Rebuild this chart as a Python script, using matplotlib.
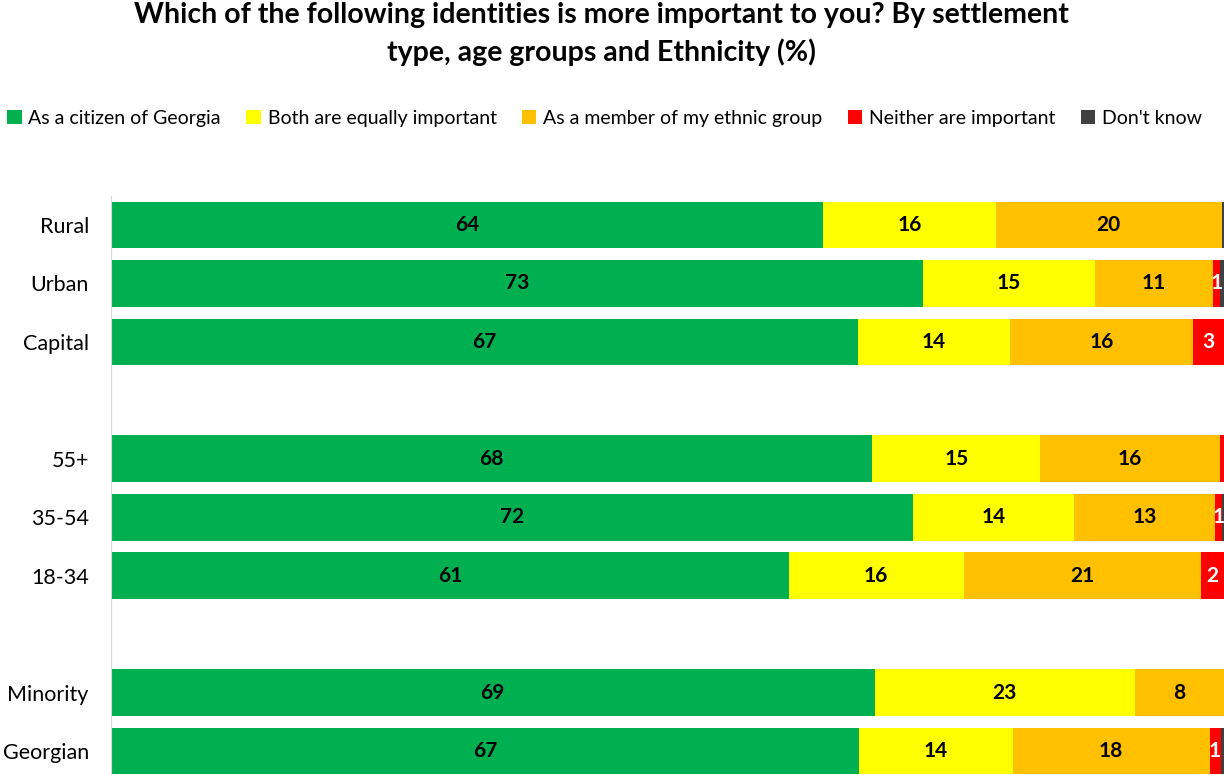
import matplotlib
matplotlib.use("Agg")
import matplotlib.pyplot as plt
from matplotlib.patches import Patch

plt.rcParams['font.family'] = ['Lato', 'DejaVu Sans']

# rows top to bottom, None = empty slot between groups
rows = ['Rural', 'Urban', 'Capital', None, '55+', '35-54', '18-34', None, 'Minority', 'Georgian']

series = ['As a citizen of Georgia', 'Both are equally important',
          'As a member of my ethnic group', 'Neither are important', "Don't know"]
colors = ['#00B050', '#FFFF00', '#FFC000', '#FF0000', '#404040']
label_colors = ['black', 'black', 'black', 'white', None]

citizen = [64.0, 73.0, 67.1, None, 68.4, 72.1, 60.9, None, 68.6, 67.2]
both = [15.5, 15.4, 13.7, None, 15.1, 14.4, 15.7, None, 23.4, 13.8]
ethnic = [20.3, 10.6, 16.4, None, 16.1, 12.7, 21.3, None, 8.0, 17.7]
neither = [0.0, 0.6, 2.8, None, 0.4, 0.6, 2.1, None, 0.0, 1.0]
dont_know = [0.2, 0.4, 0.0, None, 0.0, 0.2, 0.0, None, 0.0, 0.3]
values = [citizen, both, ethnic, neither, dont_know]

fig = plt.figure(figsize=(12.24, 7.75), dpi=100)
ax = fig.add_axes([0.0907, 0.0, 0.9093, 0.7474])

for i, row in enumerate(rows):
    if row is None:
        continue
    left = 0
    for s, vals in enumerate(values):
        v = vals[i]
        if v > 0:
            ax.barh(i, v, left=left, height=0.8, color=colors[s])
            if label_colors[s] and v >= 0.5:
                ax.text(left + v / 2, i, str(int(v + 0.5)), ha='center', va='center',
                        fontsize=15, fontweight='bold', color=label_colors[s])
        left += v

ax.set_xlim(0, 100)
ax.set_ylim(9.41, -0.5)
ax.set_yticks([i for i, r in enumerate(rows) if r is not None])
ax.set_yticklabels([r for r in rows if r is not None], fontsize=15.5)
ax.tick_params(axis='y', length=0, pad=16)
ax.set_xticks([])
for side in ['top', 'right', 'bottom']:
    ax.spines[side].set_visible(False)
ax.spines['left'].set_color('#D9D9D9')

fig.suptitle('Which of the following identities is more important to you? By settlement\n'
             'type, age groups and Ethnicity (%)',
             x=0.491, y=0.997, fontsize=20.5, fontweight='bold', linespacing=1.45)

handles = [Patch(facecolor=c, edgecolor='none') for c in colors]
fig.legend(handles, series, loc='center', bbox_to_anchor=(0.494, 0.847), ncol=5,
           frameon=False, fontsize=14, handlelength=0.75, handleheight=0.75,
           handletextpad=0.35, columnspacing=1.3)

fig.savefig('out.png', dpi=100)
